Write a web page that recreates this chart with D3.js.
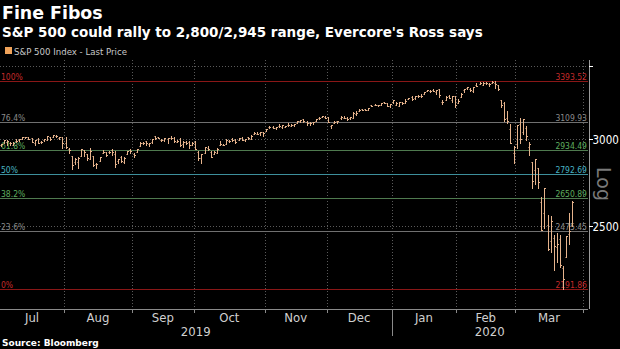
<!DOCTYPE html>
<html><head><meta charset="utf-8">
<script src="https://cdn.jsdelivr.net/npm/d3@7"></script>
<style>html,body{margin:0;padding:0;background:#000;}svg{display:block;}</style>
</head><body>
<script>
// ---- Data (S&P 500 daily OHLC, trading days from Jul 1 2019 to Mar 26 2020) ----
const open = [
 2971,2964,2978,2984,2980,2966,2990,2999,3003,3017,3012,3006,2978,3005,2982,2995,2998,3017,3013,3024,3007,3017,
 2980,2943,2898,2862,2858,2897,2931,2907,2880,2895,2849,2865,2913,2919,2923,2931,2912,2867,2894,2862,2910,2937,
 2910,2924,2961,2980,2988,2972,2982,3019,3013,2997,2995,3001,3010,3008,2984,3003,2969,2985,2985,2967,
 2983,2924,2885,2918,2945,2920,2912,2918,2964,2966,2974,2990,3001,2996,2997,3011,2995,3014,3004,3033,3036,3039,3047,
 3051,3079,3080,3075,3088,3082,3081,3090,3084,3090,3107,3118,3128,3114,3108,3112,3118,3135,3146,3147,
 3144,3087,3104,3120,3135,3141,3135,3136,3141,3167,3183,3196,3196,3192,3223,3227,3225,3227,3248,3240,3216,
 3245,3226,3218,3242,3239,3267,3281,3271,3285,3283,3302,3323,3321,3331,3316,3334,3248,3256,3289,3256,3283,
 3235,3280,3325,3344,3335,3319,3365,3371,3365,3379,3370,3380,3380,3360,3257,3238,3140,3063,2917,
 2974,3096,3045,3075,2954,2863,2813,2825,2631,2569,2509,2426,2437,2393,2432,2291,2345,2458,2501
];
const high = [
 2977,2974,2996,2994,2981,2981,3003,3003,3014,3018,3016,3006,2995,3007,2990,3005,3020,3017,3028,3025,3018,3017,
 3014,2945,2898,2885,2892,2938,2936,2908,2944,2895,2856,2893,2932,2923,2928,2939,2927,2880,2899,2891,2930,2940,
 2915,2939,2986,2985,2990,2979,3001,3021,3017,3003,3007,3008,3022,3017,2999,3007,2990,2988,2987,2983,
 2993,2925,2911,2953,2959,2926,2929,2949,2993,2973,3004,2997,3008,3001,3007,3015,3005,3016,3027,3044,3047,3050,3047,
 3067,3085,3084,3079,3098,3094,3088,3102,3098,3098,3121,3124,3128,3119,3111,3113,3134,3142,3154,3150,
 3144,3095,3120,3120,3150,3149,3143,3144,3176,3182,3197,3198,3199,3206,3226,3228,3226,3240,3248,3241,3232,
 3258,3246,3247,3245,3268,3275,3283,3288,3295,3299,3317,3330,3329,3337,3327,3334,3259,3285,3293,3286,3283,
 3268,3307,3337,3348,3342,3352,3376,3382,3385,3381,3375,3394,3389,3360,3259,3246,3182,3098,2959,
 3090,3137,3130,3083,2985,2863,2882,2825,2660,2711,2562,2553,2453,2466,2453,2300,2449,2571,2638
];
const low = [
 2952,2957,2978,2967,2964,2964,2984,2988,3001,3011,3001,2984,2967,2975,2976,2988,2996,2996,3013,3014,3001,2946,
 2946,2914,2822,2848,2825,2897,2900,2874,2877,2839,2825,2865,2913,2899,2917,2904,2834,2857,2860,2853,2910,2914,
 2891,2921,2961,2973,2967,2959,2977,3004,3006,2991,2993,2980,3003,2985,2982,2957,2953,2969,2946,2967,
 2938,2874,2856,2918,2935,2892,2907,2917,2964,2962,2974,2986,2991,2980,2995,2995,2992,3000,3001,3032,3034,3026,3024,
 3051,3074,3072,3065,3080,3075,3077,3085,3083,3083,3104,3113,3112,3091,3095,3099,3118,3131,3143,3139,
 3111,3070,3103,3103,3134,3136,3125,3133,3139,3156,3183,3191,3191,3192,3216,3222,3220,3227,3235,3216,3213,
 3236,3223,3215,3233,3236,3263,3261,3268,3278,3281,3302,3318,3316,3321,3302,3281,3234,3256,3271,3243,3214,
 3235,3280,3313,3333,3322,3317,3353,3371,3360,3367,3356,3379,3341,3328,3214,3118,3108,2977,2856,
 2946,2976,3034,2999,2901,2707,2734,2707,2478,2492,2381,2367,2280,2319,2295,2192,2345,2407,2501
];
const close = [
 2964,2973,2996,2990,2976,2980,2993,3000,3014,3014,3004,2984,2995,2977,2985,3005,3020,3004,3026,3021,3013,2980,
 2954,2932,2845,2882,2884,2938,2919,2883,2926,2841,2848,2889,2924,2901,2924,2923,2847,2878,2869,2888,2925,2926,
 2906,2938,2976,2979,2978,2979,3001,3010,3007,2998,3006,3007,3007,2992,2992,2967,2985,2978,2962,2977,
 2940,2888,2911,2952,2939,2893,2919,2938,2970,2966,2996,2990,2998,2986,3007,2996,3005,3010,3023,3039,3037,3047,3038,
 3067,3078,3075,3077,3085,3093,3087,3092,3094,3097,3120,3122,3120,3108,3104,3110,3134,3141,3154,3141,
 3114,3093,3113,3117,3146,3136,3133,3142,3169,3169,3191,3193,3191,3205,3221,3224,3223,3240,3240,3221,3231,
 3258,3235,3246,3237,3253,3275,3265,3288,3283,3289,3317,3330,3321,3322,3326,3295,3244,3276,3273,3284,3226,
 3249,3298,3335,3346,3328,3352,3358,3379,3374,3380,3370,3386,3373,3338,3226,3128,3116,2979,2954,
 3090,3003,3130,3024,2972,2747,2882,2741,2481,2711,2386,2529,2398,2409,2305,2237,2447,2476,2630
];
// Axis: month labels and index of first trading day of each month (Jul 2019 .. Apr 2020)
const monthLabels = ["Jul","Aug","Sep","Oct","Nov","Dec","Jan","Feb","Mar"];
const monthStart  = [0, 22, 44, 64, 87, 107, 128, 149, 168, 190];
const yearLabels  = ["2019","2020"];
const yearStart   = [0, 128];
const yTicks      = [2500, 3000, 3500];
const yTickLabels = ["2500", "3000", ""];
// Fibonacci retracement levels
const fibPct    = ["100%","76.4%","61.8%","50%","38.2%","23.6%","0%"];
const fibValues = [3393.52, 3109.93, 2934.49, 2792.69, 2650.89, 2475.45, 2191.86];
const fibLine   = ["#8a1717","#707070","#4f7a4f","#3d8f9c","#4f7a4f","#707070","#8a1717"];
const fibText   = ["#c42a2a","#8a8a8a","#5fae5f","#48b4c4","#5fae5f","#8a8a8a","#c42a2a"];

// ---- Drawing ----
const W = 620, H = 349;
const NARROW = "'Liberation Sans Narrow', 'DejaVu Sans Condensed', sans-serif";
const plot = {left: 0, right: 588, top: 60, bottom: 309};
const svg = d3.select("body").append("svg").attr("width", W).attr("height", H)
  .style("background", "#000");

const x = d3.scaleLinear().domain([0.78, 191.1]).range([plot.left, plot.right]);
const y = d3.scaleLog().domain([2101.6, 3529]).range([plot.bottom, 62]);

svg.append("defs").append("clipPath").attr("id", "clip")
  .append("rect").attr("x", plot.left).attr("y", plot.top)
  .attr("width", plot.right - plot.left).attr("height", plot.bottom - plot.top);

// Title
svg.append("text").attr("x", 2).attr("y", 18.5).text("Fine Fibos")
  .attr("fill", "#fff").attr("font-family", "DejaVu Sans").attr("font-weight", "bold").attr("font-size", 17.4);
svg.append("text").attr("x", 2).attr("y", 36.5).text("S&P 500 could rally to 2,800/2,945 range, Evercore's Ross says")
  .attr("fill", "#fff").attr("font-family", "DejaVu Sans").attr("font-weight", "bold").attr("font-size", 13.5);
// Legend
svg.append("rect").attr("x", 5).attr("y", 47).attr("width", 7).attr("height", 7).attr("fill", "#f0a35a");
svg.append("text").attr("x", 14).attr("y", 54.5).text("S&P 500 Index - Last Price")
  .attr("fill", "#c8c8c8").attr("font-family", "DejaVu Sans").attr("font-size", 8.6);

// Grid (dotted)
const grid = svg.append("g");
grid.selectAll("line.v").data(monthStart).join("line")
  .attr("x1", d => Math.round(x(d - 0.5)) + 0.5).attr("x2", d => Math.round(x(d - 0.5)) + 0.5)
  .attr("y1", plot.top).attr("y2", plot.bottom)
  .attr("stroke", "#5a5a5a").attr("stroke-width", 1).attr("stroke-dasharray", "1,2");
grid.selectAll("line.h").data(yTicks).join("line")
  .attr("x1", plot.left).attr("x2", plot.right)
  .attr("y1", d => Math.round(y(d)) + 0.5).attr("y2", d => Math.round(y(d)) + 0.5)
  .attr("stroke", "#5a5a5a").attr("stroke-width", 1).attr("stroke-dasharray", "1,2");

// Fib lines
const fib = svg.append("g");
fibValues.forEach((v, i) => {
  const yy = Math.round(y(v)) + 0.5;
  fib.append("line").attr("x1", plot.left).attr("x2", plot.right).attr("y1", yy).attr("y2", yy)
    .attr("stroke", fibLine[i]).attr("stroke-width", 1);
  fib.append("text").attr("x", 1).attr("y", yy - 2).text(fibPct[i])
    .attr("fill", fibText[i]).attr("font-family", NARROW).attr("font-size", 8.5);
  fib.append("text").attr("x", 587).attr("y", yy - 2).attr("text-anchor", "end").text(v.toFixed(2))
    .attr("fill", fibText[i]).attr("font-family", NARROW).attr("font-size", 8.5);
});

// OHLC bars
const bars = svg.append("g").attr("clip-path", "url(#clip)")
  .attr("stroke", "#e6b38c").attr("stroke-width", 1);
close.forEach((c, i) => {
  const xx = Math.round(x(i)) + 0.5;
  bars.append("line").attr("x1", xx).attr("x2", xx)
    .attr("y1", Math.round(y(high[i]))).attr("y2", Math.round(y(low[i])) + 1);
  bars.append("line").attr("x1", xx - 1).attr("x2", xx)
    .attr("y1", Math.round(y(open[i])) + 0.5).attr("y2", Math.round(y(open[i])) + 0.5);
  bars.append("line").attr("x1", xx).attr("x2", xx + 1.5)
    .attr("y1", Math.round(y(c)) + 0.5).attr("y2", Math.round(y(c)) + 0.5);
});

// X axis
const xa = svg.append("g");
xa.append("line").attr("x1", plot.left).attr("x2", plot.right).attr("y1", plot.bottom + 0.5).attr("y2", plot.bottom + 0.5)
  .attr("stroke", "#8a8a8a");
xa.selectAll("line.t").data(monthStart).join("line")
  .attr("x1", d => Math.round(x(d - 0.5)) + 0.5).attr("x2", d => Math.round(x(d - 0.5)) + 0.5)
  .attr("y1", plot.bottom).attr("y2", d => yearStart.includes(d) && d > 0 ? 336 : plot.bottom + 4)
  .attr("stroke", "#8a8a8a");
xa.selectAll("text.m").data(monthLabels).join("text")
  .attr("x", (d, i) => (Math.max(plot.left, x(monthStart[i] - 0.5)) + Math.min(plot.right, x(monthStart[i + 1] - 0.5))) / 2)
  .attr("y", 322).attr("text-anchor", "middle").text(d => d)
  .attr("fill", "#d0d0d0").attr("font-family", NARROW).attr("font-size", 13);
xa.selectAll("text.y").data(yearLabels).join("text")
  .attr("x", (d, i) => (Math.max(plot.left, x(yearStart[i] - 0.5)) + (i + 1 < yearStart.length ? x(yearStart[i + 1] - 0.5) : plot.right)) / 2)
  .attr("y", 335.5).attr("text-anchor", "middle").text(d => d)
  .attr("fill", "#d0d0d0").attr("font-family", NARROW).attr("font-size", 13);

// Right Y axis
const ya = svg.append("g");
ya.append("line").attr("x1", 589.5).attr("x2", 589.5).attr("y1", plot.top).attr("y2", plot.bottom)
  .attr("stroke", "#9a9a9a");
ya.selectAll("line.t").data(yTicks).join("line")
  .attr("x1", 589).attr("x2", 593).attr("y1", d => Math.round(y(d)) + 0.5).attr("y2", d => Math.round(y(d)) + 0.5)
  .attr("stroke", "#ffffff");
ya.selectAll("text").data(yTicks.filter((d, i) => yTickLabels[i] !== "")).join("text")
  .attr("x", 592.5).attr("y", d => y(d) + 4.5).text(d => yTickLabels[yTicks.indexOf(d)])
  .attr("fill", "#fff").attr("font-family", "DejaVu Sans Condensed").attr("font-size", 11.5);
svg.append("text").attr("transform", "translate(597,167) rotate(90)").text("Log")
  .attr("fill", "#7a7a7a").attr("font-family", "DejaVu Sans").attr("font-size", 19);

// Source
svg.append("text").attr("x", 2).attr("y", 346).text("Source: Bloomberg")
  .attr("fill", "#fff").attr("font-family", "DejaVu Sans").attr("font-weight", "bold").attr("font-size", 9);
</script>
</body></html>
